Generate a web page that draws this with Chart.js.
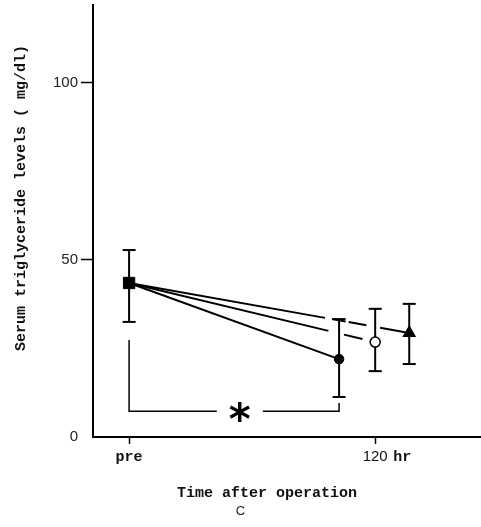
<!DOCTYPE html>
<html>
<head>
<meta charset="utf-8">
<script src="https://cdn.jsdelivr.net/npm/chart.js@4"></script>
<style>
  html, body { margin: 0; padding: 0; background: #fff; }
</style>
</head>
<body>
<canvas id="chart" width="481" height="527"></canvas>
<script>
// Serum triglyceride levels, panel C
const yTicks = [0, 50, 100];
const xTicks = [0, 120];
const xTickLabels = ['pre', '120'];
const xUnit = 'hr';
const xTitle = 'Time after operation';
const yTitle = 'Serum triglyceride levels ( mg/dl)';
const panelLabel = 'C';

// pre-operative value (same point for all three groups)
const preMean = 43.5;
const preLow = 32.5;
const preHigh = 52.8;

// values at 120 hr, x spread a bit around 120 so the bars don't overlap
const postX = [102.4, 120, 136.6];
const postMean = [22.0, 26.8, 29.4];
const postLow = [11.3, 18.6, 20.6];
const postHigh = [33.3, 36.2, 37.6];
const postMarkers = ['circle', 'circle', 'triangle'];

// significance bracket pre vs first group
const bracketX = [0, 0, 102.4, 102.4];
const bracketY = [27.4, 7.3, 7.3, 9.6];
const starX = 54;
const starY = 7.3;

// styling
const markerFill = ['#000', '#fff', '#000'];
const markerSize = [4.5, 5, 6.5];
const lineDash = [[], [205, 16, 19, 20], [199, 7, 14, 3, 18, 14, 40]];

const datasets = [];
// pre square (drawn on top)
datasets.push({
  data: [{ x: 0, y: preMean }],
  showLine: false,
  pointStyle: 'rect',
  pointRadius: 8,
  pointBackgroundColor: '#000',
  pointBorderColor: '#000',
  order: 0
});
// lines pre -> 120 hr with markers
postX.forEach((x, i) => {
  datasets.push({
    data: [{ x: 0, y: preMean }, { x: x, y: postMean[i] }],
    showLine: true,
    borderColor: '#000',
    borderWidth: 2,
    borderDash: lineDash[i],
    tension: 0,
    pointStyle: postMarkers[i],
    pointRadius: [0, markerSize[i]],
    pointBackgroundColor: markerFill[i],
    pointBorderColor: '#000',
    pointBorderWidth: 1.5,
    order: 1
  });
});
// error bars, caps are 'line' point styles
const barX = [0].concat(postX);
const barLow = [preLow].concat(postLow);
const barHigh = [preHigh].concat(postHigh);
barX.forEach((x, i) => {
  datasets.push({
    data: [{ x: x, y: barLow[i] }, { x: x, y: barHigh[i] }],
    showLine: true,
    borderColor: '#000',
    borderWidth: 2,
    pointStyle: 'line',
    pointRadius: 6.5,
    pointBorderColor: '#000',
    pointBorderWidth: 2,
    order: 2
  });
});
// bracket
datasets.push({
  data: bracketX.map((x, i) => ({ x: x, y: bracketY[i] })),
  showLine: true,
  borderColor: '#000',
  borderWidth: 1.5,
  pointRadius: 0,
  tension: 0,
  order: 3
});

const textPlugin = {
  id: 'extraText',
  afterDatasetsDraw(chart) {
    const { ctx, scales: { x, y } } = chart;
    // asterisk, with a white gap in the bracket line
    const sx = x.getPixelForValue(starX);
    const sy = y.getPixelForValue(starY);
    ctx.save();
    ctx.fillStyle = '#fff';
    ctx.fillRect(sx - 23, sy - 4, 46, 8);
    ctx.font = 'bold 40px "DejaVu Sans"';
    let m = ctx.measureText('*');
    const size = 40 * 22 / (m.actualBoundingBoxLeft + m.actualBoundingBoxRight);
    ctx.font = 'bold ' + size + 'px "DejaVu Sans"';
    m = ctx.measureText('*');
    ctx.fillStyle = '#000';
    ctx.textAlign = 'left';
    ctx.textBaseline = 'alphabetic';
    const w = m.actualBoundingBoxLeft + m.actualBoundingBoxRight;
    const h = m.actualBoundingBoxAscent + m.actualBoundingBoxDescent;
    ctx.fillText('*', sx - w / 2 + m.actualBoundingBoxLeft, sy + 1 - h / 2 + m.actualBoundingBoxAscent);
    ctx.restore();
  },
  afterDraw(chart) {
    const { ctx, scales: { x } } = chart;
    ctx.save();
    ctx.fillStyle = '#111';
    ctx.font = 'bold 15px "Liberation Mono"';
    ctx.textBaseline = 'middle';
    ctx.textAlign = 'left';
    ctx.fillText(xUnit, x.getPixelForValue(120) + 18, 457);
    ctx.textAlign = 'center';
    ctx.fillText(xTitle, 267, 493);
    ctx.translate(21, 198);
    ctx.rotate(-Math.PI / 2);
    ctx.fillText(yTitle, 0, 0);
    ctx.restore();
  }
};

// no label overflow padding, the axes fill the box exactly
function noPadding(s) {
  s.paddingTop = 0;
  s.paddingBottom = 0;
  s.paddingLeft = 0;
  s.paddingRight = 0;
}

new Chart(document.getElementById('chart'), {
  type: 'scatter',
  data: { datasets },
  plugins: [textPlugin],
  options: {
    responsive: false,
    animation: false,
    layout: { autoPadding: false, padding: { top: 5, right: 0, left: 0, bottom: 0 } },
    plugins: {
      legend: { display: false },
      tooltip: { enabled: false },
      title: {
        display: true,
        position: 'bottom',
        text: panelLabel,
        color: '#222',
        font: { family: 'Liberation Sans', size: 13, weight: 'normal' },
        padding: { top: 0, bottom: 8 }
      }
    },
    scales: {
      x: {
        type: 'linear',
        min: -17.6,
        max: 171.6,
        afterBuildTicks: s => { s.ticks = xTicks.map(v => ({ value: v })); },
        afterFit: s => { s.height = 66.4; noPadding(s); },
        border: { color: '#000', width: 2 },
        grid: { drawOnChartArea: false, drawTicks: true, tickLength: 7, tickColor: '#000', tickWidth: 1.5 },
        ticks: {
          padding: 4,
          color: '#111',
          maxRotation: 0,
          autoSkip: false,
          callback: v => xTickLabels[xTicks.indexOf(v)],
          font: c => c.index === 0
            ? { family: 'Liberation Mono', size: 15, weight: 'bold' }
            : { family: 'Liberation Sans', size: 15 }
        }
      },
      y: {
        min: 0,
        max: 122,
        afterBuildTicks: s => { s.ticks = yTicks.map(v => ({ value: v })); },
        afterFit: s => { s.width = 93; noPadding(s); },
        border: { color: '#000', width: 2 },
        grid: {
          drawOnChartArea: false,
          drawTicks: true,
          tickLength: 12,
          tickColor: c => c.tick && c.tick.value === 0 ? 'rgba(0,0,0,0)' : '#000',
          tickWidth: 1.5
        },
        ticks: {
          padding: 3,
          color: '#222',
          font: { family: 'Liberation Sans', size: 15 }
        }
      }
    }
  }
});
</script>
</body>
</html>
